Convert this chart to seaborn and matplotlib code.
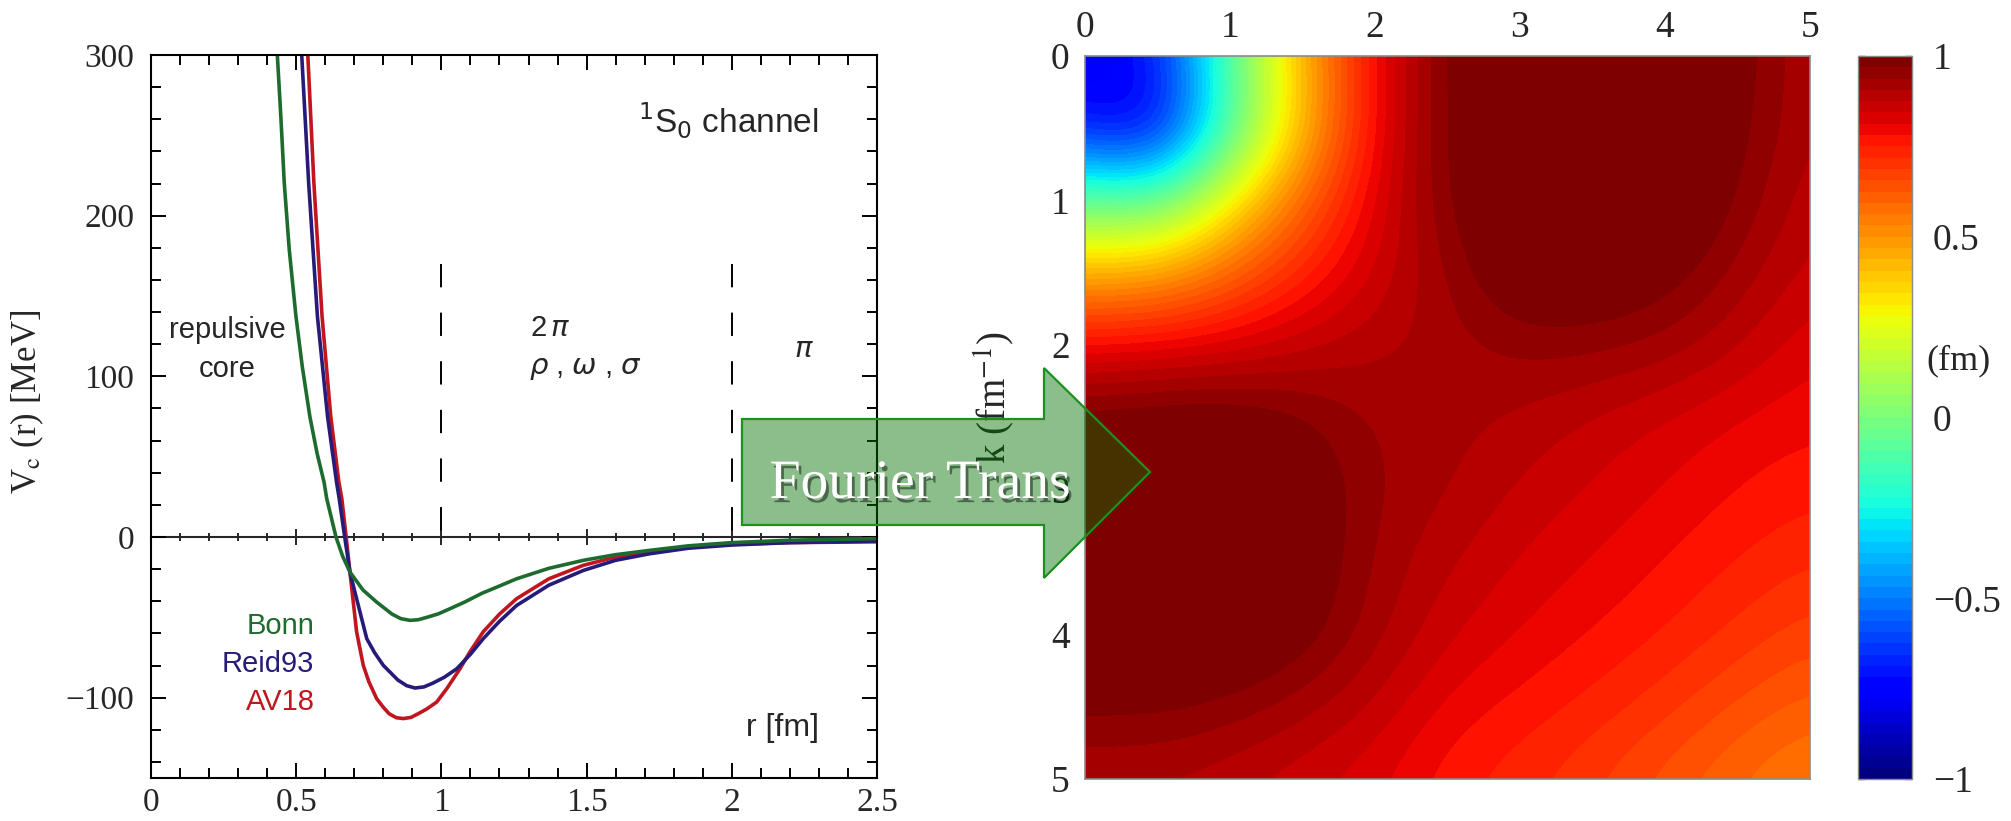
import numpy as np
import pandas as pd
import matplotlib
matplotlib.use("Agg")
import matplotlib.pyplot as plt
import seaborn as sns
from matplotlib.patches import Polygon
import matplotlib.patheffects as pe
from matplotlib.ticker import MultipleLocator, FixedLocator, FixedFormatter

# ---------------- data ----------------
bonn_r = [0.435, 0.447, 0.459, 0.476, 0.499, 0.521, 0.547, 0.572, 0.596, 0.605, 0.637, 0.66, 0.685,
          0.73, 0.777, 0.83, 0.86, 0.892, 0.92, 0.95, 0.99, 1.03, 1.08, 1.14, 1.2, 1.259, 1.37, 1.489,
          1.6, 1.718, 1.85, 2.0, 2.2, 2.5]
bonn_v = [300, 262, 220, 179, 137.5, 106, 75, 52, 34, 24, 0, -12, -21.8,
          -33, -40.5, -48, -50.8, -51.9, -51.5, -50, -47.8, -44.6, -40.5, -35, -30.5, -26, -19.5, -14.5,
          -11, -8.3, -5.5, -3.5, -2, -1]

reid_r = [0.519, 0.543, 0.573, 0.608, 0.639, 0.648, 0.667, 0.685, 0.708, 0.743, 0.77, 0.80, 0.85,
          0.88, 0.909, 0.94, 0.97, 1.01, 1.053, 1.10, 1.144, 1.2, 1.259, 1.37, 1.489, 1.6, 1.718,
          1.85, 2.0, 2.2, 2.5]
reid_v = [300, 220, 137.5, 75, 34, 24, 0, -21.8, -38.4, -63.3, -72, -79.9, -89,
          -92.5, -94, -93.3, -91, -87.3, -82, -73, -63.3, -52.5, -42.6, -30, -20.8, -14.5, -10.4,
          -7, -5, -3.5, -2.5]

av18_r = [0.540, 0.561, 0.589, 0.619, 0.647, 0.657, 0.672, 0.685, 0.708, 0.731, 0.75, 0.777, 0.80,
          0.82, 0.845, 0.869, 0.895, 0.92, 0.95, 0.984, 1.02, 1.064, 1.10, 1.144, 1.2, 1.259, 1.37,
          1.489, 1.6, 1.718, 1.85, 2.0, 2.2, 2.5]
av18_v = [300, 220, 137.5, 75, 34, 24, 0, -21.8, -59, -79.9, -90, -100.6, -106,
          -110, -112.5, -113, -112.3, -110, -107, -102.7, -94, -82, -71, -59, -48, -38.4, -26,
          -17.6, -12.5, -9.3, -6.5, -4.5, -3.5, -3]

models = ["AV18", "Reid93", "Bonn"]
model_colors = {"Bonn": "#1d6b2e", "Reid93": "#271b7a", "AV18": "#c0161f"}

x_ticks = [0, 0.5, 1, 1.5, 2, 2.5]
x_tick_labels = ["0", "0.5", "1", "1.5", "2", "2.5"]
y_ticks = [-100, 0, 100, 200, 300]
region_bounds = [1.0, 2.0]
region_top = 170

# Fourier-transformed potential V(k, k') read on a 0.5 fm^-1 grid (rows: k', cols: k)
k_vals = [0.0, 0.5, 1.0, 1.5, 2.0, 2.5, 3.0, 3.5, 4.0, 4.5, 5.0]
ft_values = [
    [-0.78, -0.72, -0.08, 0.45, 0.80, 0.99, 1.05, 1.05, 1.05, 1.00, 0.90],
    [-0.72, -0.82, -0.12, 0.42, 0.80, 0.99, 1.05, 1.05, 1.05, 0.99, 0.90],
    [-0.05, -0.08, 0.30, 0.60, 0.82, 0.98, 1.05, 1.05, 1.05, 0.97, 0.88],
    [0.45, 0.47, 0.60, 0.74, 0.85, 0.94, 1.03, 1.03, 1.00, 0.93, 0.86],
    [0.80, 0.81, 0.83, 0.87, 0.90, 0.92, 0.95, 0.95, 0.93, 0.88, 0.82],
    [1.00, 1.02, 1.02, 0.98, 0.93, 0.92, 0.90, 0.87, 0.84, 0.81, 0.79],
    [1.05, 1.05, 1.05, 1.02, 0.94, 0.91, 0.87, 0.84, 0.81, 0.78, 0.76],
    [1.05, 1.05, 1.05, 1.02, 0.93, 0.88, 0.84, 0.81, 0.78, 0.75, 0.72],
    [1.05, 1.05, 1.04, 1.00, 0.92, 0.85, 0.81, 0.78, 0.75, 0.71, 0.67],
    [0.98, 0.98, 0.96, 0.92, 0.87, 0.80, 0.77, 0.74, 0.70, 0.65, 0.61],
    [0.90, 0.90, 0.88, 0.85, 0.82, 0.76, 0.73, 0.69, 0.64, 0.59, 0.55],
]
heat_ticks = [0, 1, 2, 3, 4, 5]
cbar_ticks = [-1, -0.5, 0, 0.5, 1]
cbar_tick_labels = ["\u22121", "\u22120.5", "0", "0.5", "1"]

# ---------------- style ----------------
sns.set_style("ticks")
plt.rcParams["font.family"] = ["Liberation Serif", "DejaVu Serif"]
plt.rcParams["mathtext.fontset"] = "stix"

W, H = 2011, 821
fig = plt.figure(figsize=(W / 100, H / 100), dpi=100)


def fx(px):
    return px / W


def fy(py):
    return 1 - py / H


# ---------------- left panel ----------------
ax = fig.add_axes([fx(151), fy(778), (877 - 151) / W, (778 - 55) / H])
frames = []
for name, rr, vv in [("AV18", av18_r, av18_v), ("Reid93", reid_r, reid_v), ("Bonn", bonn_r, bonn_v)]:
    frames.append(pd.DataFrame({"r": rr, "V": vv, "model": name}))
df = pd.concat(frames, ignore_index=True)
sns.lineplot(data=df, x="r", y="V", hue="model", hue_order=models, palette=model_colors,
             estimator=None, sort=False, legend=False, linewidth=2.6, ax=ax)
for ln in ax.get_lines():
    ln.set_solid_joinstyle("round")

ax.set_xlim(0, 2.5)
ax.set_ylim(-150, 300)
ax.xaxis.set_major_locator(FixedLocator(x_ticks))
ax.xaxis.set_major_formatter(FixedFormatter(x_tick_labels))
ax.xaxis.set_minor_locator(MultipleLocator(0.1))
ax.yaxis.set_major_locator(FixedLocator(y_ticks))
ax.yaxis.set_minor_locator(MultipleLocator(20))
ax.tick_params(which="both", direction="in", top=True, right=True, width=1.4, color="black",
               labelsize=24, pad=12)
ax.tick_params(axis="x", pad=7)
ax.tick_params(which="major", length=11)
ax.tick_params(which="minor", length=7)
for s in ax.spines.values():
    s.set_linewidth(1.5)
    s.set_color("black")
ax.set_xlabel("")
ax.set_ylabel(r"V$_\mathrm{c}$ (r) [MeV]", fontsize=25)
ax.yaxis.set_label_coords(-0.145, 0.52)

# zero line with ticks
zero_frac = (0 - (-150)) / 450
sec = ax.secondary_xaxis(zero_frac)
sec.xaxis.set_major_locator(FixedLocator(x_ticks))
sec.xaxis.set_minor_locator(MultipleLocator(0.1))
sec.tick_params(which="both", direction="inout", width=1.4, labelbottom=False, labeltop=False)
sec.tick_params(which="major", length=11)
sec.tick_params(which="minor", length=6)
for s in sec.spines.values():
    s.set_linewidth(1.5)

for xb in region_bounds:
    ax.plot([xb, xb], [region_top, 0], color="black", lw=1.4, ls=(0, (12, 13)))

sans = ["Liberation Sans", "DejaVu Sans"]
ax.text(2.30, 259, r"$^{1}$S$_{0}$ channel", fontsize=24, family=sans, ha="right", va="center",
        math_fontfamily="dejavusans")
ax.text(0.262, 129, "repulsive", fontsize=21, family=sans, ha="center", va="center")
ax.text(0.262, 104.6, "core", fontsize=21, family=sans, ha="center", va="center")
ax.text(1.305, 130, r"2$\,\pi$", fontsize=21, family=sans, ha="left", va="center",
        math_fontfamily="dejavusans")
ax.text(1.30, 105, r"$\rho$ , $\omega$ , $\sigma$", fontsize=21, family=sans, ha="left", va="center",
        math_fontfamily="dejavusans")
ax.text(2.25, 117, r"$\pi$", fontsize=21, family=sans, ha="center", va="center",
        math_fontfamily="dejavusans")
ax.text(2.30, -119, "r [fm]", fontsize=23, family=sans, ha="right", va="center")
for name, yv in [("Bonn", -55.4), ("Reid93", -79), ("AV18", -102.6)]:
    ax.text(0.563, yv, name, fontsize=21, family=sans, ha="right", va="center", color=model_colors[name])

# ---------------- right panel ----------------
hax = fig.add_axes([fx(1085), fy(779), 725 / W, 723 / H])
jet64 = plt.get_cmap("jet", 64)
grid = np.array(ft_values)
step = k_vals[1] - k_vals[0]
im = hax.imshow(grid, cmap=jet64, vmin=-1, vmax=1, aspect="auto", interpolation="bicubic",
                extent=(k_vals[0] - step / 2, k_vals[-1] + step / 2, k_vals[-1] + step / 2, k_vals[0] - step / 2))
hax.set_xlim(k_vals[0], k_vals[-1])
hax.set_ylim(k_vals[-1], k_vals[0])
hax.xaxis.tick_top()
hax.set_xticks(heat_ticks)
hax.set_yticks(heat_ticks)
hax.tick_params(axis="x", length=0, labelsize=27, pad=8)
hax.tick_params(axis="y", length=0, labelsize=27, pad=11)
for s in hax.spines.values():
    s.set_color("#8a8a8a")
    s.set_linewidth(1.2)
hax.set_ylabel(r"k (fm$^{-1}$)", fontsize=28)
hax.yaxis.set_label_coords(-0.094, 0.528)

cax = fig.add_axes([fx(1858), fy(779), 54 / W, 723 / H])
cb = fig.colorbar(im, cax=cax)
cb.set_ticks(cbar_ticks)
cb.set_ticklabels(cbar_tick_labels)
cb.outline.set_edgecolor("#8a8a8a")
cb.outline.set_linewidth(1.0)
cax.tick_params(direction="in", length=5, width=1, color="#555555", left=True, right=True,
                labelsize=27, pad=15)
cax.text(1.26, 0.578, "(fm)", transform=cax.transAxes, fontsize=26, ha="left", va="center")

# ---------------- arrow ----------------
arrow_px = [(742, 419), (1044, 419), (1044, 368), (1150, 472), (1044, 578), (1044, 525), (742, 525)]
arrow = Polygon([(fx(x), fy(y)) for x, y in arrow_px], closed=True, transform=fig.transFigure,
                facecolor=(0.0, 0.44, 0.0, 0.45), edgecolor="#1f8f1f", linewidth=1.6, zorder=10)
fig.add_artist(arrow)
fig.text(fx(920), fy(498), "Fourier Trans", color="white", fontsize=40,
         family=["Liberation Serif", "DejaVu Serif"], ha="center", va="baseline", zorder=11,
         path_effects=[pe.SimplePatchShadow(offset=(2, -3), shadow_rgbFace="black", alpha=0.45), pe.Normal()])

fig.savefig("out.png", dpi=100)
